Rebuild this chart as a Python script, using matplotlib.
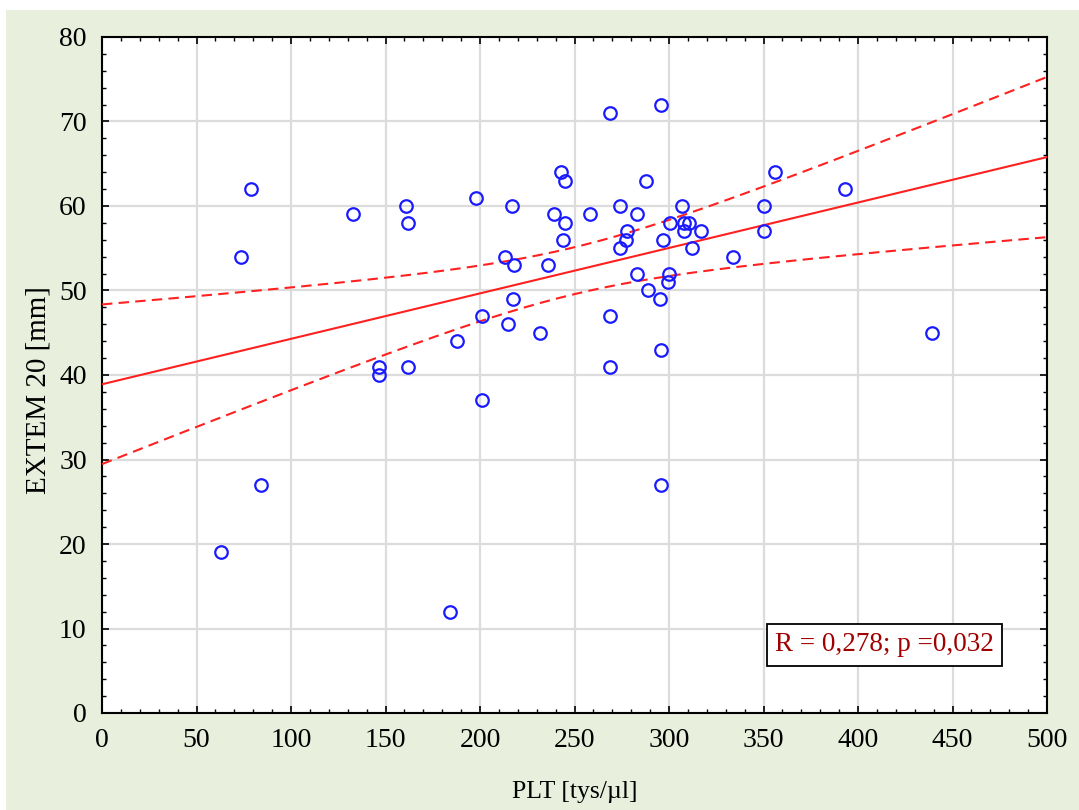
import numpy as np
import matplotlib.pyplot as plt
from matplotlib.patches import Rectangle
from matplotlib.ticker import MultipleLocator

# -------------------------------
# DATA
# -------------------------------
plt_vals = [63, 73.5, 79, 84, 133, 146.6, 146.6, 161, 162, 162,
            184, 188, 198, 201, 201, 213, 217, 217.5, 218, 215,
            232, 236, 239, 243, 245, 245, 244, 258, 269, 269,
            269, 274, 274, 277, 278, 283, 283, 288, 289, 295,
            296, 296, 296, 297, 300, 299.5, 300.5, 307, 308, 308,
            310.6, 312, 317, 334, 350, 350, 356, 393, 439]
extem_vals = [19, 54, 62, 27, 59, 41, 40, 60, 58, 41,
              12, 44, 61, 47, 37, 54, 60, 49, 53, 46,
              45, 53, 59, 64, 63, 58, 56, 59, 71, 47,
              41, 60, 55, 56, 57, 59, 52, 63, 50, 49,
              72, 43, 27, 56, 52, 51, 58, 60, 57, 58,
              58, 55, 57, 54, 60, 57, 64, 62, 45]

stat_text = "R = 0,278; p =0,032"

# -------------------------------
# FIT + 95% band
# -------------------------------
x = np.array(plt_vals)
y = np.array(extem_vals)
n = len(x)
slope, icpt = np.polyfit(x, y, 1)
resid = y - (icpt + slope * x)
s = np.sqrt((resid**2).sum() / (n - 2))
t = 2.0025  # t(0.975, 57)
xf = np.linspace(0, 500, 300)
yf = icpt + slope * xf
se = s * np.sqrt(1/n + (xf - x.mean())**2 / ((x - x.mean())**2).sum())

# -------------------------------
# PLOT
# -------------------------------
plt.rcParams['font.family'] = ['Liberation Serif', 'DejaVu Serif']

fig = plt.figure(figsize=(10.79, 8.10), dpi=100, facecolor='white')
fig.patches.append(Rectangle((6/1079, 0), 1, 1 - 10/810, transform=fig.transFigure,
                             facecolor='#e8efdc', edgecolor='none', zorder=-10))

ax = fig.add_axes([102/1079, 1 - 713/810, 945/1079, 676/810])
ax.set_facecolor('white')

ax.plot(xf, yf, color='#ff2020', lw=1.5, zorder=3)
ax.plot(xf, yf + t*se, color='#ff2020', lw=1.5, ls=(0, (5, 3)), zorder=3)
ax.plot(xf, yf - t*se, color='#ff2020', lw=1.5, ls=(0, (5, 3)), zorder=3)

ax.plot(x, y, 'o', mfc='none', mec='#1a1aff', ms=9, mew=1.6, zorder=4)

ax.set_xlim(0, 500)
ax.set_ylim(0, 80)
ax.xaxis.set_major_locator(MultipleLocator(50))
ax.xaxis.set_minor_locator(MultipleLocator(10))
ax.yaxis.set_major_locator(MultipleLocator(10))
ax.yaxis.set_minor_locator(MultipleLocator(2))
ax.grid(True, which='major', color='#dcdcdc', lw=1.6, zorder=0)
ax.set_axisbelow(True)

ax.tick_params(which='both', direction='in', top=True, right=True,
               labelsize=20, color='black', pad=11)
ax.tick_params(which='major', length=5, width=1.2)
ax.tick_params(which='minor', length=3, width=1)
for sp in ax.spines.values():
    sp.set_linewidth(1.5)

ax.set_xlabel("PLT [tys/µl]", fontsize=18.5, labelpad=20)
ax.set_ylabel("EXTEM 20 [mm]", fontsize=21)
ax.yaxis.set_label_coords(-0.053, 0.478)

ax.text(414, 8.05, stat_text, fontsize=19.5, color='#a00000', ha='center', va='center',
        bbox=dict(boxstyle='square,pad=0.3', facecolor='white', edgecolor='black', lw=1.3),
        zorder=5)

fig.savefig("out.png", dpi=100, facecolor=fig.get_facecolor())
